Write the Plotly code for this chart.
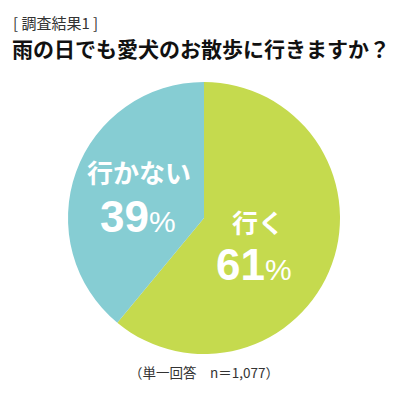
import plotly.graph_objects as go

# Survey answers and shares (%)
labels = ["行く", "行かない"]
values = [61, 39]
colors = ["#c5da4e", "#86cdd3"]

survey_tag = "[ 調査結果1 ]"
question = "雨の日でも愛犬のお散歩に行きますか？"
note = "（単一回答　n＝1,077）"

W = H = 409
JP = "Noto Sans CJK JP"
NUM = "Liberation Sans, Noto Sans CJK JP"

fig = go.Figure(
    go.Pie(
        labels=labels,
        values=values,
        marker=dict(colors=colors, line=dict(width=0)),
        sort=False,
        direction="clockwise",
        rotation=0,
        textinfo="none",
        hoverinfo="label+percent",
        domain=dict(x=[68 / W, 340 / W], y=[1 - 354 / H, 1 - 82 / H]),
        showlegend=False,
    )
)


def ann(x, y, text, font, xanchor="center"):
    return dict(x=x / W, y=1 - y / H, xref="paper", yref="paper",
                xanchor=xanchor, yanchor="middle", showarrow=False,
                text=text, font=font)


# Slice labels placed inside each wedge (label x, label y, value x, value y)
label_pos = {"行く": (258, 221, 254, 264), "行かない": (139, 171, 138, 216)}
annotations = []
for lab, val in zip(labels, values):
    lx, ly, vx, vy = label_pos[lab]
    annotations.append(ann(lx, ly, f"<b>{lab}</b>",
                           dict(family=JP, size=26, color="white")))
    annotations.append(ann(vx, vy,
                           f"<b>{val}</b><span style='font-size:30px'>%</span>",
                           dict(family=NUM, size=44, color="white")))

annotations += [
    ann(11, 22, survey_tag, dict(family=JP, size=15, color="#333333"), "left"),
    ann(10, 48, f"<b>{question}</b>", dict(family=JP, size=21, color="#111111"), "left"),
    ann(204, 372, note, dict(family=JP, size=13.5, color="#333333")),
]

fig.update_layout(
    width=W, height=H,
    margin=dict(l=0, r=0, t=0, b=0),
    paper_bgcolor="white", plot_bgcolor="white",
    annotations=annotations,
)

fig.write_html("out.html")
